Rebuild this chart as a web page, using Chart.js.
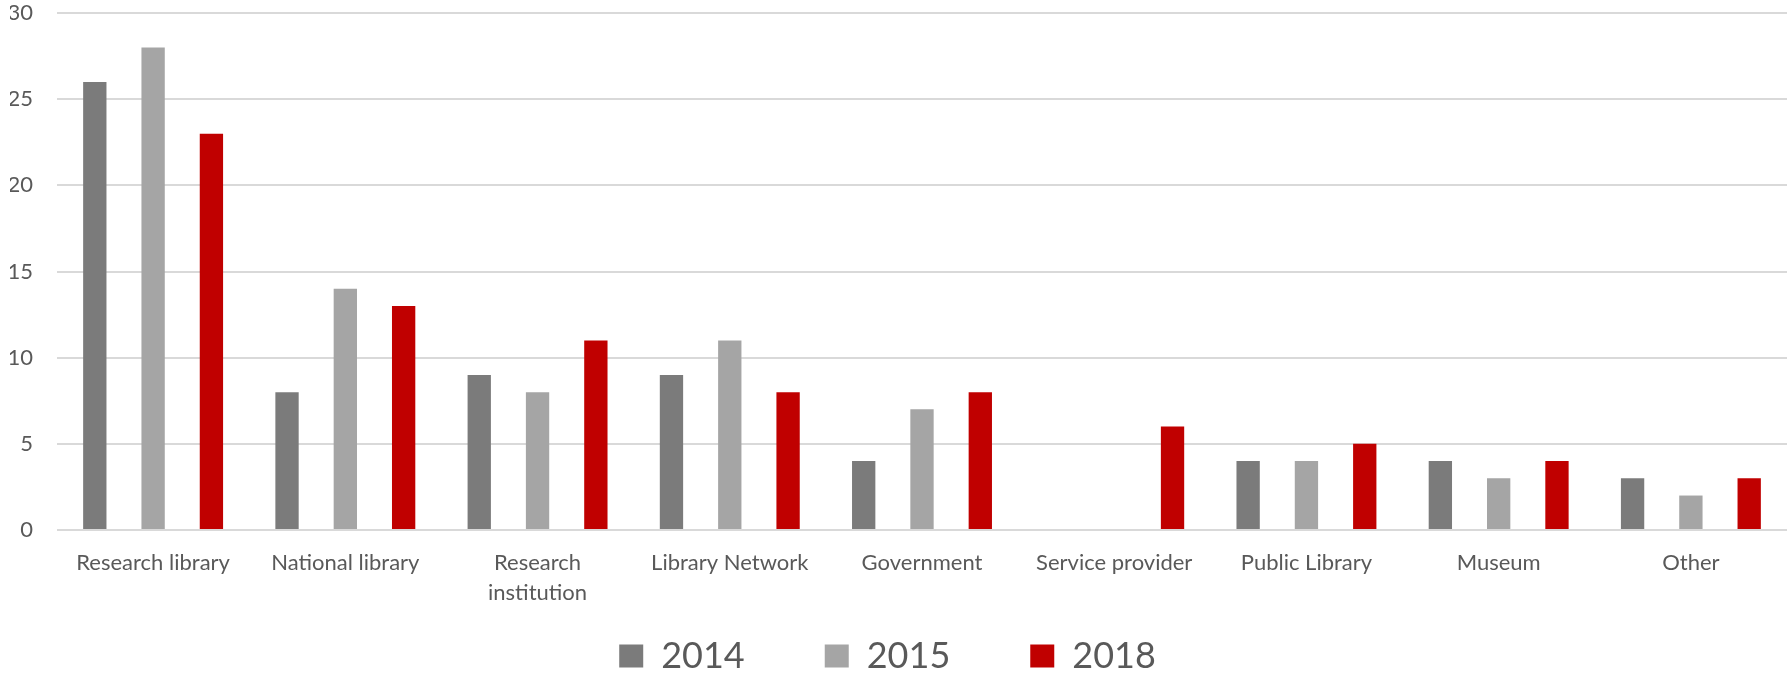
<!DOCTYPE html>
<html>
<head>
<meta charset="utf-8">
<script src="https://cdn.jsdelivr.net/npm/chart.js@4/dist/chart.umd.min.js"></script>
<style>
  html, body { margin: 0; padding: 0; background: #ffffff; }
  #wrap { width: 1792px; height: 674px; position: relative; }
</style>
</head>
<body>
<div id="wrap"><canvas id="chart"></canvas></div>
<script>
// Institution types (second line wraps long names)
const categories = [
  'Research library',
  'National library',
  ['Research', 'institution'],
  'Library Network',
  'Government',
  'Service provider',
  'Public Library',
  'Museum',
  'Other'
];

// Respondents per institution type and survey year
const values2014 = [26, 8, 9, 9, 4, 0, 4, 4, 3];
const values2015 = [28, 14, 8, 11, 7, 0, 4, 3, 2];
const values2018 = [23, 13, 11, 8, 8, 6, 5, 4, 3];

const seriesNames = ['2014', '2015', '2018'];
const seriesColors = ['#7b7b7b', '#a5a5a5', '#c00000'];

// Value axis ticks
const yTicks = [0, 5, 10, 15, 20, 25, 30];

const textColor = '#595959';
const gridColor = '#d9d9d9';
const fontFamily = 'Lato, "Open Sans", sans-serif';

const seriesValues = [values2014, values2015, values2018];

// The legend keeps a wide label padding for the gaps between entries,
// which also reserves empty space above its row; the layout lets that
// box run past the canvas bottom and this moves it back up so the row
// sits in the band under the axis labels.
const legendPlacement = {
  id: 'legendPlacement',
  afterLayout(chart) {
    const lg = chart.legend;
    if (!lg) return;
    lg.top -= 50;
    lg.bottom -= 50;
    lg.left -= 11;
    lg.right -= 11;
  }
};

new Chart(document.getElementById('chart'), {
  type: 'bar',
  data: {
    labels: categories,
    datasets: seriesNames.map((name, i) => ({
      label: name,
      data: seriesValues[i],
      backgroundColor: seriesColors[i],
      borderWidth: 0,
      categoryPercentage: 0.91,
      barPercentage: 0.4
    }))
  },
  plugins: [legendPlacement],
  options: {
    responsive: true,
    maintainAspectRatio: false,
    animation: false,
    layout: { autoPadding: false, padding: { left: 10, right: 5, top: 13, bottom: -60 } },
    plugins: {
      tooltip: { enabled: false },
      legend: {
        position: 'bottom',
        labels: {
          color: textColor,
          font: { family: fontFamily, size: 36 },
          boxWidth: 24,
          boxHeight: 23,
          padding: 80
        }
      }
    },
    scales: {
      x: {
        grid: { display: false, drawTicks: false },
        border: { display: false },
        afterFit: (axis) => { axis.height = 78; },
        ticks: {
          color: textColor,
          font: { family: fontFamily, size: 22, lineHeight: 30 / 22 },
          padding: 18,
          maxRotation: 0,
          autoSkip: false
        }
      },
      y: {
        min: yTicks[0],
        max: yTicks[yTicks.length - 1],
        afterBuildTicks: (axis) => { axis.ticks = yTicks.map(v => ({ value: v })); },
        afterFit: (axis) => {
          axis.width = 47;
          axis.paddingTop = 0;
          axis.paddingBottom = 0;
        },
        grid: { color: gridColor, lineWidth: 2, drawTicks: false },
        border: { display: false },
        ticks: {
          color: textColor,
          font: { family: fontFamily, size: 22 },
          padding: 24
        }
      }
    }
  }
});
</script>
</body>
</html>
